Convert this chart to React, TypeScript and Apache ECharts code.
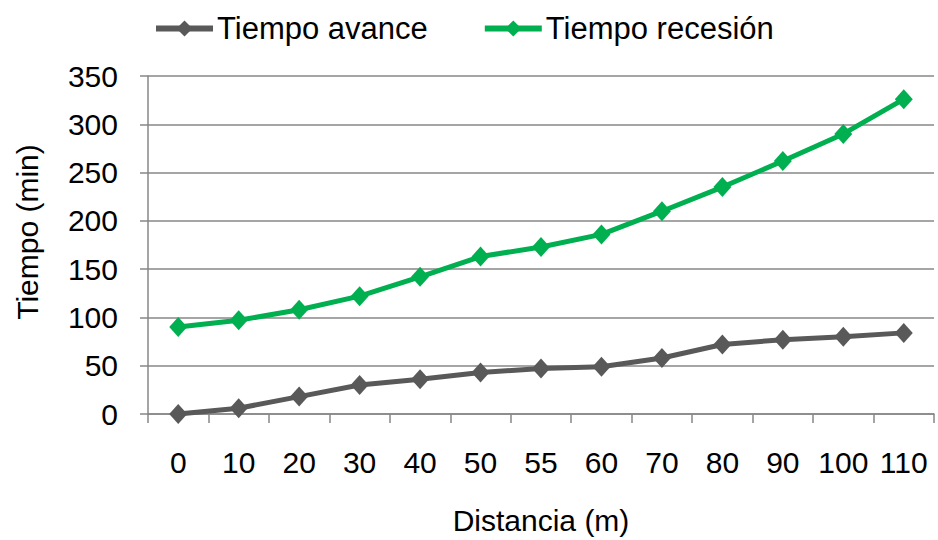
import React, { useEffect, useRef } from "react";
import * as echarts from "echarts";

const categories = ["0", "10", "20", "30", "40", "50", "55", "60", "70", "80", "90", "100", "110"];
const tiempoAvance = [0, 6, 18, 30, 36, 43, 47, 49, 58, 72, 77, 80, 84];
const tiempoRecesion = [90, 97, 108, 122, 142, 163, 173, 186, 210, 235, 262, 290, 326];
const yTicks = { min: 0, max: 350, interval: 50 };

const FONT = "'Liberation Sans', Arial, sans-serif";
const AXIS_GRAY = "#878787";

export default function App() {
  const ref = useRef<HTMLDivElement>(null);
  useEffect(() => {
    if (!ref.current) return;
    const chart = echarts.init(ref.current, undefined, { renderer: "svg" });
    chart.setOption({
      animation: false,
      textStyle: { fontFamily: FONT },
      legend: {
        left: 148,
        top: 8,
        itemWidth: 57,
        itemHeight: 20,
        itemGap: 54,
        lineStyle: { width: 6 },
        textStyle: { fontSize: 31, color: "#000", fontFamily: FONT, padding: [0, 0, 0, -1] },
        data: ["Tiempo avance", "Tiempo recesión"],
      },
      grid: { left: 148, right: 4, top: 76, bottom: 126, containLabel: false },
      xAxis: {
        type: "category",
        data: categories,
        boundaryGap: true,
        name: "Distancia (m)",
        nameLocation: "middle",
        nameGap: 91,
        nameTextStyle: { fontSize: 30, color: "#000", fontFamily: FONT },
        axisLine: { show: true, lineStyle: { color: AXIS_GRAY, width: 1.5 } },
        axisTick: { show: true, length: 9, alignWithLabel: false, lineStyle: { color: AXIS_GRAY, width: 1.5 } },
        axisLabel: { fontSize: 30, color: "#000", margin: 33, fontFamily: FONT, interval: 0 },
        splitLine: { show: false },
      },
      yAxis: {
        type: "value",
        min: yTicks.min,
        max: yTicks.max,
        interval: yTicks.interval,
        name: "Tiempo (min)",
        nameLocation: "middle",
        nameGap: 106,
        nameTextStyle: { fontSize: 30, color: "#000", fontFamily: FONT, padding: [0, 0, 0, 26] },
        axisLine: { show: true, lineStyle: { color: AXIS_GRAY, width: 1.5 } },
        axisTick: { show: true, length: 8, lineStyle: { color: AXIS_GRAY, width: 1.5 } },
        axisLabel: { fontSize: 30, color: "#000", margin: 30, fontFamily: FONT },
        splitLine: { show: true, lineStyle: { color: AXIS_GRAY, width: 1.5 } },
      },
      series: [
        {
          name: "Tiempo avance",
          type: "line",
          data: tiempoAvance,
          symbol: "diamond",
          symbolSize: [18, 20],
          lineStyle: { color: "#595959", width: 5 },
          itemStyle: { color: "#595959" },
        },
        {
          name: "Tiempo recesión",
          type: "line",
          data: tiempoRecesion,
          symbol: "diamond",
          symbolSize: [18, 20],
          lineStyle: { color: "#00B050", width: 5 },
          itemStyle: { color: "#00B050" },
        },
      ],
    });
    return () => chart.dispose();
  }, []);
  return (
    <div
      ref={ref}
      style={{ position: "fixed", left: 0, top: 0, width: 938, height: 540, background: "#fff" }}
    />
  );
}
